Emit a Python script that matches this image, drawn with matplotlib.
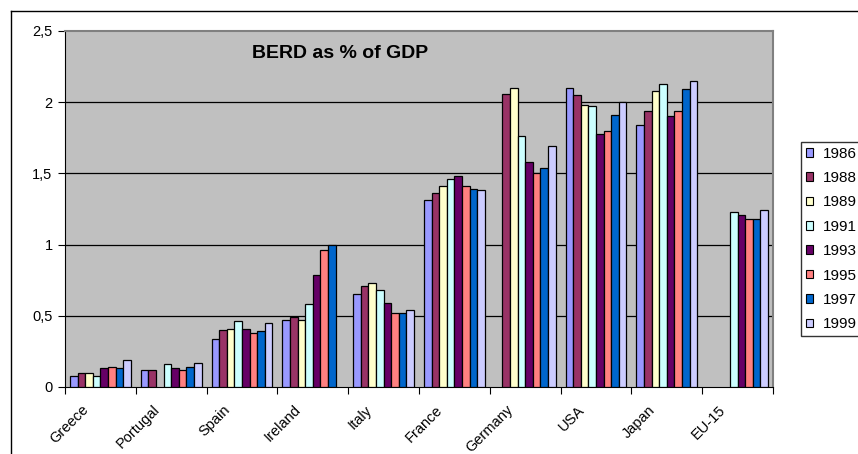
import numpy as np
import matplotlib.pyplot as plt
from matplotlib.patches import Patch
from matplotlib.lines import Line2D
from matplotlib.ticker import FuncFormatter
from matplotlib.transforms import ScaledTranslation

plt.rcParams['font.family'] = ['Liberation Sans', 'DejaVu Sans']

# Datos
paises = ['Greece', 'Portugal', 'Spain', 'Ireland', 'Italy', 'France',
          'Germany', 'USA', 'Japan', 'EU-15']
anios = ['1986', '1988', '1989', '1991', '1993', '1995', '1997', '1999']
nan = np.nan
v1986 = [0.08, 0.12, 0.34, 0.47, 0.65, 1.31, nan, 2.10, 1.84, nan]
v1988 = [0.10, 0.12, 0.40, 0.49, 0.71, 1.36, 2.06, 2.05, 1.94, nan]
v1989 = [0.10, nan, 0.41, 0.47, 0.73, 1.41, 2.10, 1.98, 2.08, nan]
v1991 = [0.08, 0.16, 0.46, 0.58, 0.68, 1.46, 1.76, 1.97, 2.13, 1.23]
v1993 = [0.13, 0.13, 0.41, 0.79, 0.59, 1.48, 1.58, 1.78, 1.90, 1.21]
v1995 = [0.14, 0.12, 0.38, 0.96, 0.52, 1.41, 1.50, 1.80, 1.94, 1.18]
v1997 = [0.13, 0.14, 0.39, 1.00, 0.52, 1.39, 1.54, 1.91, 2.09, 1.18]
v1999 = [0.19, 0.17, 0.45, nan, 0.54, 1.38, 1.69, 2.00, 2.15, 1.24]
series = [v1986, v1988, v1989, v1991, v1993, v1995, v1997, v1999]
colores = ['#9999FF', '#993366', '#FFFFCC', '#CCFFFF', '#660066',
           '#FF8080', '#0066CC', '#CCCCFF']

W, H = 858, 454
fig = plt.figure(figsize=(W / 100, H / 100), dpi=100)
ax = fig.add_axes([65 / W, 1 - 387 / H, 708 / W, 356 / H])
ax.set_facecolor('#C0C0C0')

# Barras
x = np.arange(len(paises)) + 0.5
ancho = 0.1075
for k, (vals, col) in enumerate(zip(series, colores)):
    ax.bar(x + (k - 3.5) * ancho, vals, width=ancho, color=col,
           edgecolor='black', linewidth=0.9, zorder=3)

ax.set_xlim(0, len(paises))
ax.set_ylim(0, 2.5)

# Rejilla
for yv in [0.5, 1, 1.5, 2]:
    ax.axhline(yv, color='black', linewidth=0.9, zorder=1)

# Ejes
ax.spines['top'].set_color('#808080')
ax.spines['right'].set_color('#808080')
ax.spines['top'].set_linewidth(1.5)
ax.spines['right'].set_linewidth(1.5)
ax.spines['left'].set_color('black')
ax.spines['bottom'].set_color('black')

ax.set_yticks([0, 0.5, 1, 1.5, 2, 2.5])
ax.yaxis.set_major_formatter(FuncFormatter(lambda v, p: f'{v:g}'.replace('.', ',')))
ax.tick_params(axis='y', direction='out', length=5, labelsize=10.5, pad=4)

ax.set_xticks(np.arange(len(paises) + 1))
ax.set_xticklabels([])
ax.set_xticks(x, minor=True)
ax.set_xticklabels(paises, minor=True, rotation=45, ha='right',
                   rotation_mode='anchor', fontsize=10.5)
ax.tick_params(axis='x', which='major', direction='out', length=5)
ax.tick_params(axis='x', which='minor', length=0, pad=9)
desplaz = ScaledTranslation(-0.19, -0.03, fig.dpi_scale_trans)
for lab in ax.get_xticklabels(minor=True):
    lab.set_transform(lab.get_transform() + desplaz)

# Titulo
ax.text(340 / W, 1 - 54 / H, 'BERD as % of GDP', transform=fig.transFigure,
        ha='center', va='center', fontsize=14, fontweight='bold')

# Marco exterior
fig.add_artist(Line2D([11 / W, 11 / W], [0, 1 - 11 / H], color='black', linewidth=1))
fig.add_artist(Line2D([11 / W, 1], [1 - 11 / H, 1 - 11 / H], color='black', linewidth=1))

# Leyenda
handles = [Patch(facecolor=c, edgecolor='black', linewidth=0.8) for c in colores]
leg = fig.legend(handles, anios, loc='upper left',
                 bbox_to_anchor=(801 / W, 1 - 142 / H), borderaxespad=0,
                 fontsize=11, frameon=True, fancybox=False, edgecolor='black',
                 handlelength=0.5, handleheight=0.5, handletextpad=0.65,
                 labelspacing=0.68, borderpad=0.3)
leg.get_frame().set_linewidth(1)

fig.savefig('out.png', dpi=100)
